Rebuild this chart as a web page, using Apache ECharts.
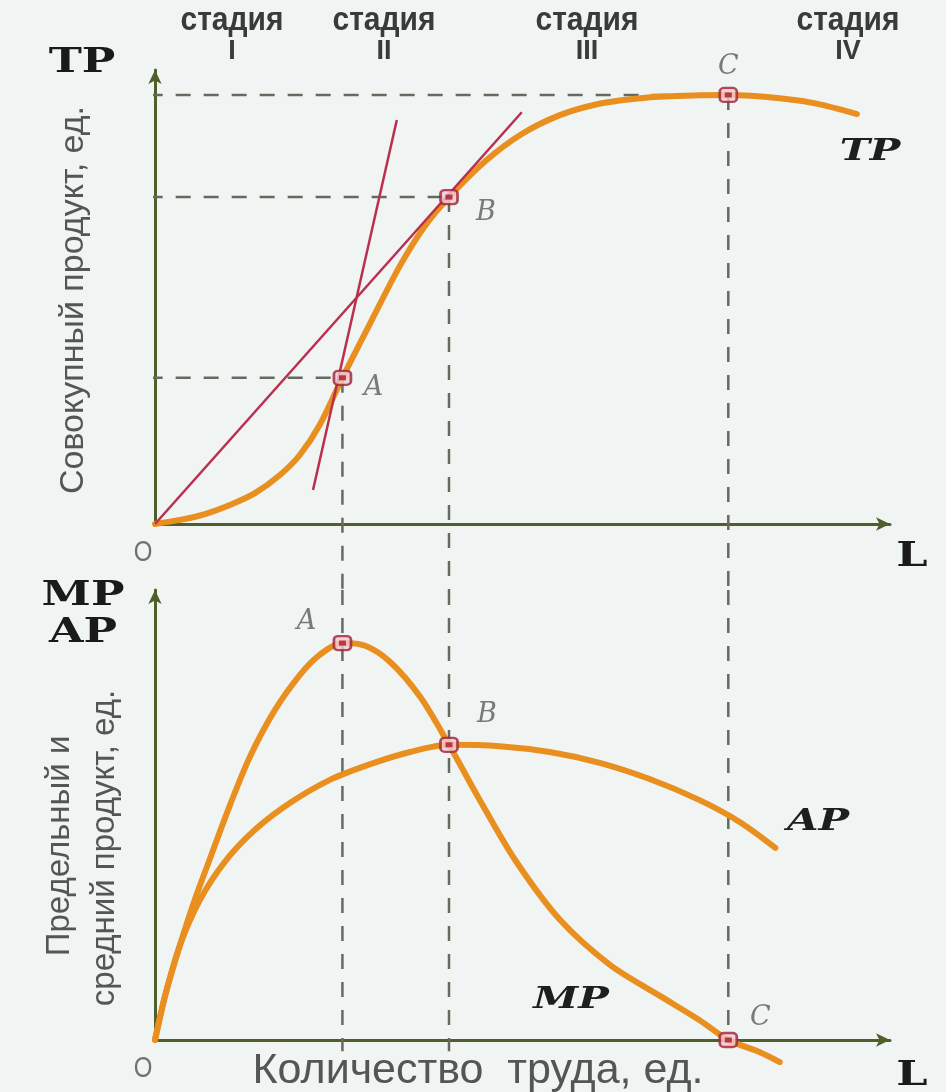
<!DOCTYPE html>
<html><head><meta charset="utf-8">
<script src="https://cdn.jsdelivr.net/npm/echarts@6/dist/echarts.min.js"></script>
<style>html,body{margin:0;padding:0;background:#f0f4f2;}#c{width:946px;height:1092px;}</style>
</head><body><div id="c"></div>
<script>
// ---------- data ----------
const stageNames = ['стадия', 'стадия', 'стадия', 'стадия'];
const stageNumerals = ['I', 'II', 'III', 'IV'];
const pointNames = ['A', 'B', 'C'];
// labour quantities (x) of the points A, B, C
const pointL = [2.55, 4.0, 7.8];
// TP values at A, B, C
const pointTP = [3.22, 7.2, 9.45];
// MP at A, AP=MP at B, MP at C
const pointMPAP = [8.82, 6.56, 0];

const tpL = [0, 0.34, 0.68, 1.02, 1.36, 1.7, 1.97, 2.24, 2.55, 2.93, 3.33, 3.67, 4.0, 4.5, 4.99, 5.5, 6.0, 6.5, 7.0, 7.8, 8.5, 9.0, 9.55];
const tpV = [0, 0.09, 0.22, 0.42, 0.68, 1.08, 1.52, 2.18, 3.22, 4.43, 5.68, 6.56, 7.2, 8.0, 8.59, 9.0, 9.24, 9.36, 9.42, 9.45, 9.38, 9.26, 9.03];

const mpL = [0, 0.14, 0.34, 0.54, 0.75, 1.02, 1.29, 1.63, 1.97, 2.24, 2.55, 2.86, 3.2, 3.61, 4.0, 4.42, 4.9, 5.51, 6.19, 6.87, 7.41, 7.8, 8.23, 8.5];
const mpV = [0, 1.0, 2.11, 3.11, 4.04, 5.22, 6.29, 7.33, 8.11, 8.56, 8.82, 8.76, 8.4, 7.62, 6.56, 5.33, 4.0, 2.67, 1.67, 0.98, 0.44, 0, -0.27, -0.49];

const apL = [0, 0.14, 0.34, 0.61, 0.95, 1.36, 1.84, 2.38, 2.93, 3.47, 4.0, 4.69, 5.37, 6.05, 6.73, 7.41, 7.96, 8.44];
const apV = [0, 1.0, 2.11, 3.11, 3.96, 4.67, 5.27, 5.78, 6.13, 6.4, 6.56, 6.53, 6.4, 6.16, 5.8, 5.33, 4.84, 4.27];

// tangent lines in the TP panel
const steepLine = [[2.15, 0.75], [3.29, 8.9]];
const rayLine = [[0, 0], [4.99, 9.07]];

// ---------- layout ----------
const H = 1092;
const X_MAX = 10, Y_MAX = 10;
const TOP = {left: 155, right: 56, top: 70, bottom: 568};
const BOT = {left: 155, right: 56, top: 590, bottom: 52};
const topOriginPx = H - TOP.bottom;
const topScale = (topOriginPx - TOP.top) / Y_MAX;
const gapExt = -(BOT.top - topOriginPx) / topScale; // top-panel units reaching the lower panel

const ORANGE = '#e98f1f';
const RED = '#b8304e';
const DASH = '#646b5c';
const AXIS = '#4f5f2b';

function zip(a, b) { return a.map((v, i) => [v, b[i]]); }

const axisCommon = {
  type: 'value', min: 0,
  axisLine: {show: true, onZero: false, lineStyle: {color: AXIS, width: 3}, symbol: ['none', 'arrow'], symbolSize: [10, 14]},
  axisTick: {show: false}, axisLabel: {show: false}, splitLine: {show: false}
};

const dashStyle = {color: DASH, width: 2.5, type: [15, 13]};
function lineSeries(grid, data, style, z, clip) {
  return {type: 'line', xAxisIndex: grid, yAxisIndex: grid, data: data, symbol: 'none',
    lineStyle: style, z: z || 2, clip: clip === undefined ? true : clip, silent: true, animation: false};
}
function curve(grid, data, clip) {
  return Object.assign(lineSeries(grid, data, {color: ORANGE, width: 6, cap: 'round', join: 'round'}, 3, clip), {smooth: 0.3});
}

const series = [];
// top panel dashed guides
pointL.forEach((x, i) => {
  series.push(lineSeries(0, [[-0.1, pointTP[i]], [x, pointTP[i]]], dashStyle, 1, false));
  series.push(lineSeries(0, [[x, pointTP[i]], [x, gapExt]], dashStyle, 1, false));
});
// bottom panel dashed guides
pointL.forEach((x, i) => {
  const end = i < 2 ? -0.25 : pointMPAP[i];
  series.push(lineSeries(1, [[x, Y_MAX], [x, end]], dashStyle, 1, false));
});
// tangent lines
series.push(lineSeries(0, steepLine, {color: RED, width: 2.5}, 4));
series.push(lineSeries(0, rayLine, {color: RED, width: 2.5}, 4));
// curves
series.push(curve(0, zip(tpL, tpV)));
series.push(curve(1, zip(apL, apV)));
series.push(curve(1, zip(mpL, mpV), false));

// markers
const labelFont = {fontFamily: 'DejaVu Serif', fontStyle: 'italic', fontSize: 27, color: '#5a5a5a'};
const topOffsets = [[31, 10], [37, 16], [0, -28]];
const botOffsets = [[-36, -21], [38, -30], [32, -22]];
function markerSeries(grid, ys, offsets) {
  return [{
    type: 'scatter', xAxisIndex: grid, yAxisIndex: grid, symbol: 'roundRect', symbolSize: [17, 14],
    itemStyle: {color: '#f6c8cf', borderColor: '#9b2238', borderWidth: 2.5}, z: 6, animation: false, clip: false,
    data: pointL.map((x, i) => ({value: [x, ys[i]], name: pointNames[i],
      label: {show: true, formatter: pointNames[i], position: 'inside', offset: offsets[i], ...labelFont}}))
  }, {
    type: 'scatter', xAxisIndex: grid, yAxisIndex: grid, symbol: 'rect', symbolSize: [7, 5],
    itemStyle: {color: '#a3172f'}, z: 7, animation: false, clip: false,
    data: pointL.map((x, i) => [x, ys[i]])
  }];
}
series.push(...markerSeries(0, pointTP, topOffsets));
series.push(...markerSeries(1, pointMPAP, botOffsets));

// ---------- texts ----------
const stageX = [232, 384, 587, 848];
const graphic = [];
const stageFont = 'bold 30px "Liberation Sans", "DejaVu Sans", sans-serif';
stageX.forEach((x, i) => {
  graphic.push({type: 'text', x: x, y: 21, scaleY: 1.1, style: {text: stageNames[i], font: stageFont, fill: '#3a3a3a', textAlign: 'center', textVerticalAlign: 'middle'}});
  graphic.push({type: 'text', x: x, y: 52, style: {text: stageNumerals[i], font: 'bold 27px "Liberation Sans", sans-serif', fill: '#3a3a3a', textAlign: 'center', textVerticalAlign: 'middle'}});
});
const slabBold = 'bold 33px "DejaVu Serif", "Liberation Serif", serif';
const slabBoldIt = 'italic bold 29px "DejaVu Serif", "Liberation Serif", serif';
[['TP', 82, 63], ['MP', 83, 596], ['AP', 83, 633], ['L', 912, 557], ['L', 912, 1076]].forEach(t => {
  graphic.push({type: 'text', x: t[1], y: t[2], scaleX: 1.35, style: {text: t[0], font: slabBold, fill: '#1a1a1a', textAlign: 'center', textVerticalAlign: 'middle'}});
});
[['TP', 870, 152], ['AP', 818, 822], ['MP', 571, 1000]].forEach(t => {
  graphic.push({type: 'text', x: t[1], y: t[2], scaleX: 1.4, style: {text: t[0], font: slabBoldIt, fill: '#1e1e1e', textAlign: 'center', textVerticalAlign: 'middle'}});
});
[['O', 143, 553], ['O', 143, 1069]].forEach(t => {
  graphic.push({type: 'text', x: t[1], y: t[2], scaleY: 1.2, style: {text: t[0], font: '24px "Liberation Sans", sans-serif', fill: '#707070', textAlign: 'center', textVerticalAlign: 'middle'}});
});
const sideFont = '33px "Liberation Sans", sans-serif';
graphic.push({type: 'text', x: 74, y: 300, rotation: Math.PI / 2, style: {text: 'Совокупный продукт, ед.', font: '34px "Liberation Sans", sans-serif', fill: '#555', textAlign: 'center', textVerticalAlign: 'middle'}});
graphic.push({type: 'text', x: 60, y: 846, rotation: Math.PI / 2, style: {text: 'Предельный и', font: sideFont, fill: '#555', textAlign: 'center', textVerticalAlign: 'middle'}});
graphic.push({type: 'text', x: 105, y: 848, rotation: Math.PI / 2, style: {text: 'средний продукт, ед.', font: sideFont, fill: '#555', textAlign: 'center', textVerticalAlign: 'middle'}});
graphic.push({type: 'text', x: 478, y: 1071, style: {text: 'Количество  труда, ед.', font: '43px "Liberation Sans", sans-serif', fill: '#555', textAlign: 'center', textVerticalAlign: 'middle'}});

const chart = echarts.init(document.getElementById('c'), null, {renderer: 'canvas'});
chart.setOption({
  backgroundColor: '#f0f4f2',
  animation: false,
  grid: [TOP, BOT],
  xAxis: [Object.assign({}, axisCommon, {gridIndex: 0, max: X_MAX}), Object.assign({}, axisCommon, {gridIndex: 1, max: X_MAX})],
  yAxis: [Object.assign({}, axisCommon, {gridIndex: 0, max: Y_MAX}), Object.assign({}, axisCommon, {gridIndex: 1, max: Y_MAX})],
  series: series,
  graphic: graphic
});
</script></body></html>
